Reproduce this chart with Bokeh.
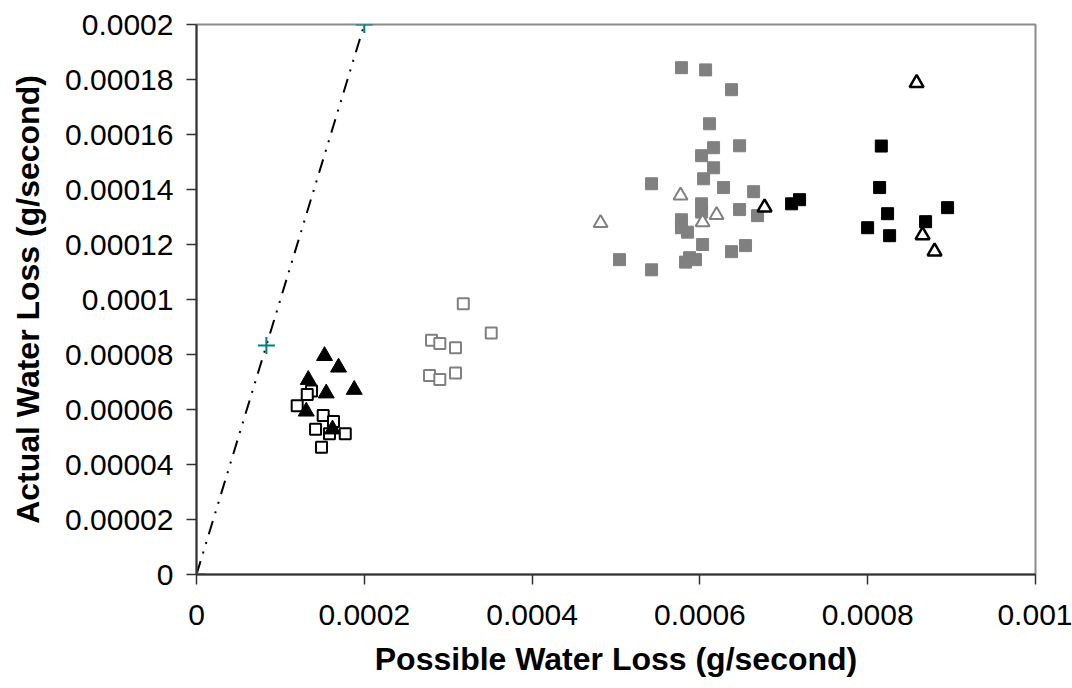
from bokeh.plotting import figure
from bokeh.models import Range1d, FixedTicker, CustomJSTickFormatter
from bokeh.embed import file_html
from bokeh.resources import INLINE

# ---- data ----
ref_x = [0, 0.0000833, 0.0002]
ref_y = [0, 0.0000833, 0.0002]

blk_tri_x = [0.0001526, 0.0001693, 0.0001332, 0.0001546, 0.000188, 0.0001308, 0.0001621]
blk_tri_y = [0.0000795, 0.0000753, 0.0000708, 0.0000659, 0.0000672, 0.0000593, 0.0000528]

blk_osq_x = [0.0001371, 0.000132, 0.00012, 0.000151, 0.0001633, 0.0001419, 0.0001585, 0.0001773, 0.000149]
blk_osq_y = [0.0000667, 0.0000655, 0.0000614, 0.0000578, 0.0000556, 0.0000528, 0.0000512, 0.0000512, 0.0000463]

gry_osq_x = [0.000318, 0.0003513, 0.0002801, 0.00029, 0.0003087, 0.0002777, 0.00029, 0.0003087]
gry_osq_y = [0.0000985, 0.0000878, 0.0000852, 0.000084, 0.0000825, 0.0000724, 0.0000709, 0.0000733]

gry_sq_x = [0.000578, 0.0006068, 0.0006377, 0.0006115, 0.0006473, 0.0006163, 0.000602, 0.0006163,
            0.0006044, 0.0005424, 0.0006282, 0.000664, 0.000602, 0.000602, 0.0006473, 0.0006687,
            0.000578, 0.000578, 0.0005853, 0.0006032, 0.0006544, 0.0006377, 0.0005877, 0.0005948,
            0.0005829, 0.0005424, 0.0005042]
gry_sq_y = [0.0001843, 0.0001835, 0.0001763, 0.0001639, 0.0001559, 0.0001552, 0.0001523, 0.0001479,
            0.0001439, 0.0001421, 0.0001407, 0.0001392, 0.0001348, 0.0001318, 0.0001327, 0.0001305,
            0.000129, 0.0001261, 0.0001245, 0.00012, 0.0001196, 0.0001174, 0.0001152, 0.0001145,
            0.0001136, 0.0001108, 0.0001145]

gry_otri_x = [0.0004816, 0.0005769, 0.0006199, 0.0006032]
gry_otri_y = [0.0001278, 0.0001378, 0.0001307, 0.0001281]

blk_otri_x = [0.0006771, 0.0008583, 0.0008654, 0.0008797]
blk_otri_y = [0.0001335, 0.0001787, 0.0001234, 0.0001175]

blk_sq_x = [0.0007093, 0.0007188, 0.0008162, 0.0008142, 0.0008237, 0.0007999, 0.0008261, 0.000869, 0.0008952]
blk_sq_y = [0.0001348, 0.0001363, 0.0001558, 0.0001407, 0.0001312, 0.0001261, 0.0001232, 0.0001283, 0.0001334]

x_ticks = [0, 0.0002, 0.0004, 0.0006, 0.0008, 0.001]
y_ticks = [0, 0.00002, 0.00004, 0.00006, 0.00008, 0.0001, 0.00012, 0.00014, 0.00016, 0.00018, 0.0002]

x_title = "Possible Water Loss (g/second)"
y_title = "Actual Water Loss (g/second)"

FONT = "Liberation Sans"

xr = Range1d(x_ticks[0], x_ticks[-1])
yr = Range1d(y_ticks[0], y_ticks[-1])
p = figure(width=1072, height=688, x_range=xr, y_range=yr,
           output_backend="svg", toolbar_location=None,
           title=x_title, title_location="below",
           min_border_left=196, min_border_right=37, min_border_top=24, min_border_bottom=114,
           background_fill_color="white", border_fill_color="white")

p.xgrid.visible = False
p.ygrid.visible = False
p.outline_line_color = "#8a8a8a"
p.outline_line_width = 2

# x-axis title (placed as the below-title, right under the tick labels)
p.title.align = "center"
p.title.text_font = FONT
p.title.text_font_style = "bold"
p.title.text_font_size = "32px"
p.title.text_color = "black"
p.title.standoff = 22

for ax, ticks, nd in ((p.xaxis[0], x_ticks, 4), (p.yaxis[0], y_ticks, 5)):
    ax.ticker = FixedTicker(ticks=ticks)
    ax.formatter = CustomJSTickFormatter(code="return Number(tick.toFixed(%d)).toString();" % nd)
    ax.minor_tick_line_color = None
    ax.major_tick_out = 10
    ax.major_tick_in = 0
    ax.major_tick_line_color = "#333333"
    ax.major_tick_line_width = 1.5
    ax.axis_line_color = "#333333"
    ax.axis_line_width = 2
    ax.major_label_text_font = FONT
    ax.major_label_text_font_size = "30px"
    ax.major_label_text_color = "black"
    ax.axis_label_text_font = FONT
    ax.axis_label_text_font_style = "bold"
    ax.axis_label_text_font_size = "32px"
    ax.axis_label_text_color = "black"

p.yaxis.axis_label = y_title
p.xaxis.major_label_standoff = 20
p.yaxis.major_label_standoff = 13
p.yaxis.axis_label_standoff = 16

# reference 1:1 line
p.line(ref_x, ref_y, line_color="black", line_width=2, line_dash="14 8 2 8 2 8")

# series
p.scatter(gry_sq_x, gry_sq_y, marker="square", size=12, fill_color="#808080", line_color="#808080")
p.scatter(gry_osq_x, gry_osq_y, marker="square", size=11, fill_color="white",
          line_color="#808080", line_width=2)
p.scatter(blk_osq_x, blk_osq_y, marker="square", size=11, fill_color="white",
          line_color="black", line_width=2)
p.scatter(blk_tri_x, blk_tri_y, marker="triangle", size=16, fill_color="black", line_color="black")
p.scatter(gry_otri_x, gry_otri_y, marker="triangle", size=14, fill_color="white",
          line_color="#808080", line_width=2)
p.scatter(blk_sq_x, blk_sq_y, marker="square", size=12, fill_color="black", line_color="black")
p.scatter(blk_otri_x, blk_otri_y, marker="triangle", size=14, fill_color="white",
          line_color="black", line_width=2.5)
p.scatter(ref_x, ref_y, marker="cross", size=17, line_color="#008080", line_width=2)

open("out.html", "w").write(file_html(p, INLINE))
